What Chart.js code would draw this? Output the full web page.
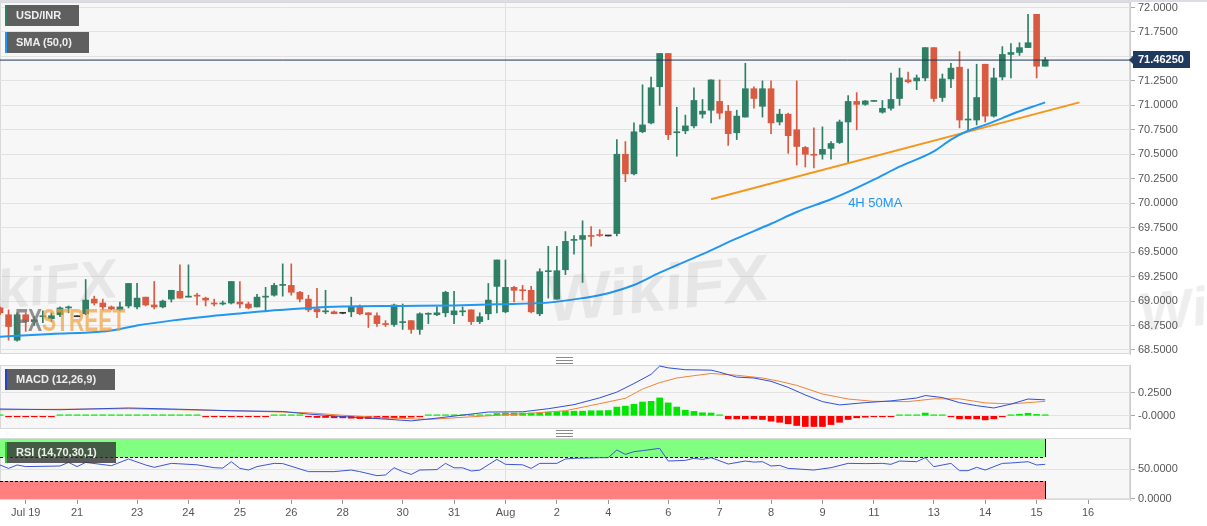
<!DOCTYPE html>
<html>
<head>
<meta charset="utf-8">
<script src="https://cdn.jsdelivr.net/npm/chart.js@4.4.1/dist/chart.umd.min.js"></script>
<style>
  body { margin: 0; background: #fff; width: 1207px; height: 526px; overflow: hidden; position: relative;
         font-family: "Liberation Sans", Arial, sans-serif; }
  canvas { position: absolute; left: 0; }
  #main { top: 0; }
  #macd { top: 364px; }
  #rsi  { top: 436px; }
  .topline { position: absolute; left: 0; top: 0; width: 1207px; height: 2px; background: #dcdce6; }
  .tag { position: absolute; left: 5px; height: 21px; line-height: 21px; box-sizing: border-box;
         padding-left: 9px; border-left: 2px solid; background: rgba(70,70,70,.86);
         color: #efefef; font-weight: bold; font-size: 11px; white-space: nowrap; }
  .handle { position: absolute; left: 556px; width: 17px; height: 5px;
            border-top: 1px solid #8a8a8a; border-bottom: 1px solid #8a8a8a; }
  .handle::after { content: ""; position: absolute; left: 0; right: 0; top: 2px; border-top: 1px solid #8a8a8a; }
  .wm { position: absolute; font-weight: bold; white-space: nowrap; pointer-events: none; }
</style>
</head>
<body>
<canvas id="main" width="1207" height="356"></canvas>
<canvas id="macd" width="1207" height="66"></canvas>
<canvas id="rsi" width="1207" height="90"></canvas>

<div class="topline"></div>
<div class="wm" style="left:548px;top:250px;font-size:66px;color:rgba(90,90,90,.10);transform:skewX(-8deg) rotate(-6deg)">WikiFX</div>
<div class="wm" style="left:-70px;top:255px;font-size:56px;color:rgba(90,90,90,.10);transform:skewX(-8deg) rotate(-6deg)">WikiFX</div>
<div class="wm" style="left:1140px;top:270px;font-size:56px;color:rgba(90,90,90,.10);transform:skewX(-8deg) rotate(-6deg)">WikiFX</div>
<div class="wm" style="left:15px;top:302px;font-size:32px;transform:scaleX(0.66);transform-origin:left top">
  <span style="color:rgba(110,110,110,.75)">FX</span><span style="color:rgba(240,160,60,.7)">STREET</span>
</div>

<div class="tag" style="top:5px;width:74px;border-left-color:#2f7f68">USD/INR</div>
<div class="tag" style="top:32px;width:84px;border-left-color:#2196f3">SMA (50,0)</div>
<div class="tag" style="top:369px;width:110px;border-left-color:#2443c9">MACD (12,26,9)</div>
<div class="tag" style="top:442px;width:111px;border-left-color:#2fc42f;background:rgba(50,50,50,.8)">RSI (14,70,30,1)</div>
<div class="handle" style="top:357px"></div>
<div class="handle" style="top:430px"></div>

<script>
// x axis: one slot per 4H candle
const tickIdx = [3, 9, 16, 22, 28, 34, 40, 47, 53, 59, 65, 71, 78, 84, 90, 96, 102, 109, 115, 121, 127];
const tickLabels = ['Jul 19', '21', '23', '24', '25', '26', '28', '30', '31', 'Aug', '2', '4', '6', '7', '8', '9', '11', '13', '14', '15', '16'];
const monthStart = 59;

// USD/INR 4H candles
const opens = [68.93,68.86,68.60,68.86,68.79,68.84,68.82,68.86,68.93,68.84,68.87,69.02,68.98,68.94,68.91,68.95,68.94,69.04,68.96,68.94,
  69.02,69.10,69.04,69.06,69.03,68.98,68.97,68.98,68.99,68.97,68.94,69.04,69.06,69.16,69.16,69.09,69.02,68.92,68.89,68.89,
  68.875,68.89,68.94,68.88,68.85,68.77,68.76,68.78,68.80,68.71,68.865,68.86,68.88,68.86,68.89,68.91,68.79,68.87,69.15,68.89,
  69.14,69.11,69.11,68.87,69.30,69.02,69.32,69.62,69.63,69.67,69.675,69.665,69.69,70.50,70.30,70.73,70.82,71.19,71.53,70.72,
  70.74,70.79,70.91,70.95,71.04,70.94,70.72,70.88,71.17,70.99,71.17,70.83,70.91,70.75,70.57,70.50,70.50,70.56,70.62,70.83,
  71.04,71.01,71.04,70.93,70.97,71.07,71.26,71.25,71.28,71.59,71.08,71.27,71.39,70.85,70.85,71.42,70.89,71.29,71.52,71.54,
  71.59,71.93,71.40];
const highs = [68.94,68.91,68.88,68.88,68.84,68.90,68.88,68.94,68.95,68.85,69.22,69.05,69.02,68.95,68.99,69.18,69.18,69.04,69.20,69.01,
  69.11,69.37,69.37,69.08,69.04,69.02,69.00,69.20,69.20,68.99,69.07,69.14,69.18,69.38,69.38,69.10,69.06,69.13,69.11,68.90,
  68.88,69.04,68.96,68.88,68.88,68.80,68.97,68.97,68.80,68.88,68.88,68.94,69.10,69.10,68.94,68.91,68.88,69.18,69.42,69.42,
  69.15,69.16,69.15,69.33,69.56,69.56,69.71,69.67,69.82,69.76,69.73,69.665,70.65,70.63,70.82,71.21,71.29,71.53,71.53,70.98,
  70.90,71.18,71.06,71.26,71.26,71.00,70.95,71.43,71.19,71.25,71.25,70.96,70.92,71.25,70.58,70.77,70.78,70.63,70.85,71.10,
  71.13,71.05,71.045,71.05,71.33,71.38,71.34,71.31,71.59,71.59,71.32,71.43,71.55,71.37,71.42,71.42,71.38,71.60,71.63,71.64,
  71.93,71.93,71.49];
const lows = [68.86,68.60,68.59,68.69,68.75,68.78,68.79,68.84,68.88,68.84,68.86,68.96,68.91,68.91,68.90,68.93,68.92,68.95,68.92,68.93,
  68.99,69.03,69.04,68.96,68.95,68.95,68.96,68.97,68.93,68.92,68.94,68.89,69.05,69.05,69.06,68.99,68.89,68.83,68.87,68.87,
  68.87,68.84,68.86,68.73,68.74,68.74,68.74,68.71,68.67,68.66,68.77,68.85,68.84,68.77,68.85,68.76,68.77,68.81,68.88,68.88,
  68.99,69.01,68.88,68.85,69.03,69.02,69.27,69.48,69.19,69.56,69.66,69.665,69.665,70.22,70.29,70.72,70.81,71.00,70.65,70.48,
  70.71,70.77,70.87,70.82,70.86,70.59,70.65,70.88,70.97,70.88,70.71,70.80,70.51,70.39,70.37,70.36,70.45,70.45,70.61,70.42,
  70.75,71.00,71.04,70.92,70.95,71.00,71.23,71.16,71.25,71.04,71.04,71.18,70.77,70.74,70.80,70.83,70.88,71.26,71.28,71.51,
  71.59,71.28,71.40];
const closes = [68.88,68.74,68.86,68.79,68.81,68.85,68.85,68.93,68.94,68.84,69.01,68.98,68.94,68.92,68.94,69.18,69.03,68.96,68.94,69.00,
  69.11,69.03,69.045,69.05,69.01,68.97,68.98,69.20,68.97,68.93,69.04,69.045,69.16,69.165,69.09,69.02,68.91,68.89,68.895,68.87,
  68.875,68.94,68.87,68.86,68.77,68.76,68.96,68.79,68.71,68.87,68.87,68.88,69.09,68.90,68.895,68.79,68.84,69.01,69.42,69.14,
  69.11,69.105,68.89,69.30,69.305,69.31,69.61,69.625,69.67,69.66,69.67,69.665,70.50,70.30,70.73,70.80,71.18,71.53,70.70,70.725,
  70.79,71.05,70.94,71.26,70.92,70.71,70.89,71.17,71.07,71.17,70.82,70.91,70.69,70.58,70.50,70.49,70.55,70.61,70.83,71.04,
  71.01,71.045,71.045,70.97,71.06,71.28,71.24,71.28,71.59,71.07,71.27,71.38,70.85,70.855,71.08,70.89,71.28,71.52,71.54,71.59,
  71.64,71.40,71.4625];
const priceTicks = [68.5, 68.75, 69.0, 69.25, 69.5, 69.75, 70.0, 70.25, 70.5, 70.75, 71.0, 71.25, 71.5, 71.75, 72.0];

// SMA(50)
const smaIdx = [0,6,12,14,16,20,24,28,32,36,40,47,53,58,64,68,71,74,77,82,86,90,93,97,99,102,105,109,111,113,115,117,119,121,122];
const smaVal = [68.636,68.664,68.689,68.715,68.750,68.800,68.840,68.873,68.905,68.930,68.944,68.950,68.955,68.967,68.984,69.03,69.08,
  69.164,69.29,69.48,69.64,69.79,69.91,70.04,70.115,70.24,70.373,70.53,70.65,70.74,70.80,70.87,70.94,71.00,71.03];

// rising support line
const trendIdx = [83, 126];
const trendVal = [70.04, 71.03];

// MACD (12,26,9)
const macdIdx = [0,7,15,20,27,33,36,40,45,48,51,57,61,64,67,70,72,74,76,77,78,80,83,84,86,88,90,92,94,96,98,101,104,107,108,110,112,114,116,118,120,122];
const macdVal = [0.074,0.066,0.085,0.074,0.055,0.047,0.019,-0.008,-0.036,-0.055,-0.025,0.041,0.044,0.077,0.121,0.195,0.257,0.35,0.45,0.54,
  0.52,0.50,0.495,0.473,0.42,0.41,0.374,0.308,0.226,0.154,0.118,0.143,0.162,0.193,0.22,0.198,0.143,0.11,0.085,0.127,0.182,0.173];
const sigIdx = [0,15,27,36,40,45,50,55,61,66,70,73,75,77,79,81,83,86,89,91,93,96,99,102,106,109,112,115,118,120,122];
const sigVal = [0.066,0.077,0.055,0.033,0.006,-0.022,-0.039,-0.011,0.022,0.055,0.132,0.19,0.29,0.36,0.41,0.435,0.459,0.44,0.41,0.374,
  0.33,0.237,0.182,0.157,0.154,0.184,0.184,0.14,0.129,0.143,0.157];
const histVal = [0.003,
  -0.004,-0.004,-0.004,-0.004,-0.004,-0.004,
  0.004,0.004,0.004,0.004,0.004,0.004,0.004,
  0.005,0.008,0.008,0.008,
  0.002,0.002,0.002,0.002,0.002,0.002,
  -0.004,-0.004,-0.004,-0.004,-0.004,-0.004,-0.004,-0.004,
  0.003,0.003,0.003,0.003,
  -0.011,-0.018,-0.018,-0.022,-0.022,-0.026,-0.03,-0.03,-0.03,-0.026,-0.022,-0.018,-0.014,-0.011,
  0.01,0.01,0.01,0.01,0.01,0.01,0.01,0.01,
  0.025,0.03,0.03,0.03,0.03,0.033,0.04,0.045,0.048,0.05,0.05,0.055,0.055,
  0.057,0.095,0.105,0.125,0.15,0.157,0.194,0.14,0.095,0.06,0.048,0.033,0.03,0.005,
  -0.033,-0.033,-0.033,-0.033,-0.04,-0.058,-0.07,-0.087,-0.105,-0.116,-0.116,-0.116,-0.095,-0.07,-0.04,-0.022,-0.015,-0.011,-0.007,-0.002,
  0.003,0.004,0.008,0.03,0.008,0.003,-0.002,
  -0.033,-0.033,-0.033,-0.044,-0.033,-0.007,
  0.004,0.017,0.028,0.015,0.011];
const macdTicks = [0, 0.25];

// RSI (14,70,30,1)
const rsiIdx = [0,1,2,3,7,8,9,10,13,15,17,18,20,23,25,26,27,28,29,30,32,33,36,39,41,42,44,45,46,47,48,49,51,52,53,54,55,56,58,59,
  61,62,63,65,66,67,70,71,72,73,74,75,77,78,80,81,82,83,85,87,88,89,90,91,92,95,97,99,101,103,104,105,107,108,109,111,112,113,114,115,
  117,118,120,121,122];
const rsiVal = [56.7,51,56.7,54,55,61,54,61,55.5,66.7,56.7,52.8,59.4,57,52.2,51.5,62.2,51,48.3,54,59.4,59,45.6,45.6,48.3,45.6,38.9,40,52.2,45.6,
  41,48.3,49,59.4,52,52,46.7,48,66,57.8,57,51,59.4,59.4,66.7,67.8,68.9,68.9,81.7,74.4,78.9,80.6,84.4,63.3,64.4,67.8,66,68.9,58.3,63.3,
  61.5,62.2,55,56,51,48.3,52.2,59.4,59,59.4,57.8,63.3,62.2,68.9,53.9,59.4,47.2,47.2,52.8,48.3,59.4,60,62.2,56.7,57.8];
const rsiUpper = 70, rsiLower = 30;
const rsiTicks = [0, 50];

const maNote = { text: '4H 50MA', at: 99, price: 70.0 };

const FONT = '"Liberation Sans", Arial, sans-serif';
const UP = '#2e7f66', DOWN = '#d95a40', FLAT = '#333333';
const X_MIN = 0, X_MAX = 131.9;

Chart.defaults.font.family = FONT;

function xAxis(showLabels) {
  return {
    type: 'linear', min: X_MIN, max: X_MAX, offset: false,
    afterBuildTicks: s => { s.ticks = tickIdx.map(v => ({ value: v })); },
    afterFit: s => { s.height = showLabels ? 26 : 0; s.paddingLeft = 0; s.paddingRight = 0; },
    grid: {
      offset: false,
      color: c => (c.tick && c.tick.value === monthStart) ? '#e0e0e0' : 'rgba(0,0,0,0)',
      drawTicks: showLabels, tickLength: 4, tickColor: '#9a9a9a'
    },
    border: { display: false },
    ticks: {
      display: showLabels, autoSkip: false, maxRotation: 0, padding: 2, color: '#555',
      font: { size: 11 }, callback: (v, k) => tickLabels[k]
    }
  };
}

function yAxis(min, max, ticks, fmt) {
  return {
    position: 'right', min, max,
    afterBuildTicks: s => { s.ticks = ticks.map(v => ({ value: v })); },
    afterFit: s => { s.width = 77; s.paddingTop = 0; s.paddingBottom = 0; },
    grid: { offset: false, color: '#e2e2e2', tickColor: '#a8a8a8', tickLength: 5 },
    border: { color: '#cccccc' },
    ticks: { color: '#555', padding: 3, font: { size: 11 }, callback: fmt }
  };
}

const panelBg = {
  id: 'panelBg',
  beforeDraw(chart) {
    const { ctx, chartArea: a } = chart;
    ctx.save();
    ctx.fillStyle = '#f7f7f7';
    ctx.fillRect(a.left, a.top, a.right - a.left, a.bottom - a.top);
    ctx.strokeStyle = '#d8d8d8';
    ctx.lineWidth = 1;
    ctx.strokeRect(a.left + 0.5, a.top + 0.5, a.right - a.left - 1, a.bottom - a.top - 1);
    ctx.restore();
  }
};

const mainDecor = {
  id: 'mainDecor',
  afterDraw(chart) {
    const { ctx, scales: { x, y } } = chart;
    const last = closes[closes.length - 1];
    const py = Math.round(y.getPixelForValue(last));
    const bx = x.right + 3;
    ctx.save();
    ctx.fillStyle = '#1f3a5f';
    ctx.beginPath();
    ctx.moveTo(x.right - 1, py);
    ctx.lineTo(bx, py - 4); ctx.lineTo(bx, py - 9); ctx.lineTo(bx + 57, py - 9);
    ctx.lineTo(bx + 57, py + 8); ctx.lineTo(bx, py + 8); ctx.lineTo(bx, py + 4);
    ctx.closePath();
    ctx.fill();
    ctx.fillStyle = '#ffffff';
    ctx.font = 'bold 11px ' + FONT;
    ctx.textBaseline = 'middle';
    ctx.textAlign = 'left';
    ctx.fillText(last.toFixed(5), bx + 5, py);

    ctx.fillStyle = '#2196f3';
    ctx.font = '13px ' + FONT;
    ctx.fillText(maNote.text, x.getPixelForValue(maNote.at), y.getPixelForValue(maNote.price));
    ctx.restore();
  }
};

const rsiZones = {
  id: 'rsiZones',
  beforeDatasetsDraw(chart) {
    const { ctx, scales: { x, y } } = chart;
    const l = x.left;
    const r = Math.round(x.getPixelForValue(closes.length - 1));
    const zone = (hi, lo, fill, lineAt) => {
      const t = y.getPixelForValue(hi), b = y.getPixelForValue(lo);
      ctx.fillStyle = fill;
      ctx.fillRect(l, t, r - l, b - t);
      ctx.strokeStyle = '#000';
      ctx.lineWidth = 1;
      ctx.beginPath(); ctx.moveTo(r + 0.5, t); ctx.lineTo(r + 0.5, b); ctx.stroke();
      const ly = Math.round(y.getPixelForValue(lineAt)) + 0.5;
      ctx.setLineDash([3, 2]);
      ctx.beginPath(); ctx.moveTo(l, ly); ctx.lineTo(r, ly); ctx.stroke();
      ctx.setLineDash([]);
    };
    ctx.save();
    zone(100, rsiUpper, '#80ff80', rsiUpper);
    zone(rsiLower, 0, '#ff8080', rsiLower);
    ctx.restore();
  }
};

const candleColor = opens.map((o, i) => closes[i] > o ? UP : (closes[i] < o ? DOWN : FLAT));
const pts = (xs, ys) => xs.map((v, k) => ({ x: v, y: ys[k] }));
const base = {
  responsive: false, animation: false, devicePixelRatio: 1,
  plugins: { legend: { display: false }, tooltip: { enabled: false } }
};

// price panel
new Chart(document.getElementById('main'), {
  type: 'bar',
  data: {
    datasets: [
      { type: 'line', data: [{ x: X_MIN, y: closes[closes.length - 1] }, { x: X_MAX, y: closes[closes.length - 1] }],
        borderColor: '#1d3557', borderWidth: 1, pointRadius: 0, order: 0 },
      { type: 'line', data: pts(smaIdx, smaVal), borderColor: '#2196f3', borderWidth: 2, pointRadius: 0,
        cubicInterpolationMode: 'monotone', order: 1 },
      { type: 'line', data: pts(trendIdx, trendVal), borderColor: '#f5961d', borderWidth: 2, pointRadius: 0, order: 1 },
      { type: 'bar', data: opens.map((o, i) => ({ x: i, y: [o, closes[i]] })), backgroundColor: candleColor,
        barThickness: 6, minBarLength: 1, grouped: false, order: 2 },
      { type: 'bar', data: lows.map((lo, i) => ({ x: i, y: [lo, highs[i]] })), backgroundColor: candleColor,
        barThickness: 1, grouped: false, order: 3 }
    ]
  },
  options: Object.assign({}, base, {
    layout: { padding: { top: 2, bottom: 2, left: 0, right: 0 } },
    scales: {
      x: xAxis(false),
      y: yAxis(68.459, 72.056, priceTicks, v => v.toFixed(4))
    }
  }),
  plugins: [panelBg, mainDecor]
});

// MACD panel
new Chart(document.getElementById('macd'), {
  type: 'bar',
  data: {
    datasets: [
      { type: 'line', data: pts(macdIdx, macdVal), borderColor: '#2f4fd8', borderWidth: 1, pointRadius: 0, order: 0 },
      { type: 'line', data: pts(sigIdx, sigVal), borderColor: '#f0843a', borderWidth: 1, pointRadius: 0, order: 1 },
      { type: 'bar', data: histVal.map((h, i) => ({ x: i, y: h })),
        backgroundColor: histVal.map(h => h >= 0 ? '#00e600' : '#ff0000'),
        barThickness: 6, minBarLength: 1, grouped: false, order: 2 }
    ]
  },
  options: Object.assign({}, base, {
    layout: { padding: { top: 1, bottom: 1, left: 0, right: 0 } },
    scales: {
      x: xAxis(false),
      y: yAxis(-0.143, 0.551, macdTicks, v => v === 0 ? '-0.0000' : v.toFixed(4))
    }
  }),
  plugins: [panelBg]
});

// RSI panel
new Chart(document.getElementById('rsi'), {
  type: 'line',
  data: {
    datasets: [
      { data: pts(rsiIdx, rsiVal), borderColor: '#3d56d6', borderWidth: 1, pointRadius: 0 }
    ]
  },
  options: Object.assign({}, base, {
    layout: { padding: { top: 2, bottom: 0, left: 0, right: 0 } },
    scales: {
      x: xAxis(true),
      y: yAxis(-1.7, 101.7, rsiTicks, v => v.toFixed(4))
    }
  }),
  plugins: [panelBg, rsiZones]
});
</script>
</body>
</html>
